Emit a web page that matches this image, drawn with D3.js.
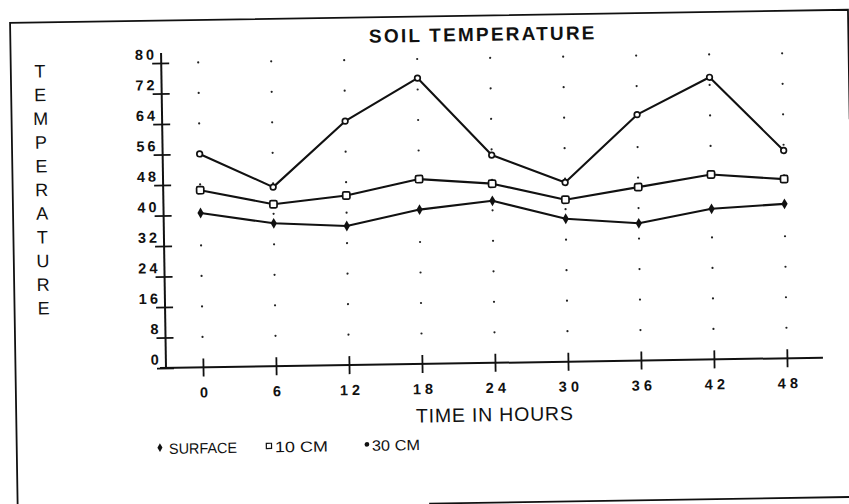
<!DOCTYPE html>
<html>
<head>
<meta charset="utf-8">
<script src="https://cdn.jsdelivr.net/npm/d3@7"></script>
<style>
  html, body { margin: 0; padding: 0; background: #fff; }
  svg { display: block; }
  text { font-family: "Liberation Sans", Arial, Helvetica, sans-serif; fill: #111; }
</style>
</head>
<body>
<svg id="chart" width="849" height="504"></svg>
<script>
// ---- data -------------------------------------------------------------
const hours   = [0, 6, 12, 18, 24, 30, 36, 42, 48];
const surface = [40.5, 37.5, 36.5, 40.5, 42.5, 37.5, 36, 39.5, 40.5];
const cm10    = [46.5, 42.5, 44.5, 48.5, 47, 42.5, 45.5, 48.5, 47];
const cm30    = [56, 47, 64, 75, 54.5, 47, 64.5, 74, 54.5];
const yTicks  = [0, 8, 16, 24, 32, 40, 48, 56, 64, 72, 80];
const xTicks  = [0, 6, 12, 18, 24, 30, 36, 42, 48];
const seriesNames = ["SURFACE", "10 CM", "30 CM"];
const chartTitle = "SOIL TEMPERATURE";
const xTitle = "TIME IN HOURS";
const yTitle = "TEMPERATURE";

// ---- layout -----------------------------------------------------------
const ox = 166, oy = 368;               // axis origin
const tilt = -0.9;                      // the sheet sits slightly askew
const x = d3.scaleLinear().domain([0, 48]).range([203, 787]);
const y = d3.scaleLinear().domain([0, 80]).range([oy, 63]);

const svg = d3.select("#chart");
svg.append("rect").attr("width", 849).attr("height", 504).attr("fill", "#fff");
const page = svg.append("g").attr("transform", `rotate(${tilt},${ox},${oy})`);

// frame around the figure
const frame = page.append("g").attr("stroke", "#111").attr("fill", "none");
frame.append("path").attr("stroke-width", 1.8).attr("d", "M15.5,540V20.5H853.5V130");
frame.append("path").attr("stroke-width", 1.8).attr("d", "M427,507.7H853.5");

// title
page.append("text")
  .attr("x", 488).attr("y", 46)
  .attr("text-anchor", "middle")
  .attr("font-size", 19).attr("font-weight", "bold")
  .attr("letter-spacing", 2.2)
  .text(chartTitle);

// vertical, letter-stacked y title
page.append("g").selectAll("text")
  .data(yTitle.split(""))
  .join("text")
  .attr("x", 44.5)
  .attr("y", (d, i) => 75.6 + i * 23.7)
  .attr("text-anchor", "middle")
  .attr("font-size", 18)
  .text(d => d);

// grid dots at every tick crossing
const dots = [];
xTicks.forEach(h => yTicks.filter(t => t > 0).forEach(t => dots.push([h, t])));
page.append("g").selectAll("circle")
  .data(dots)
  .join("circle")
  .attr("cx", d => x(d[0]))
  .attr("cy", d => y(d[1]))
  .attr("r", 1.1)
  .attr("fill", "#222");

// y axis
const yAxis = page.append("g")
  .attr("transform", `translate(${ox},0)`)
  .call(d3.axisLeft(y).tickValues(yTicks).tickSize(9).tickPadding(0).tickFormat(d3.format("d")));
yAxis.select(".domain").remove();
yAxis.selectAll(".tick line").attr("x1", -9).attr("x2", 8).attr("stroke", "#111").attr("stroke-width", 1.8);
yAxis.selectAll(".tick text")
  .attr("x", -4).attr("dy", null).attr("y", -4)
  .attr("font-size", 14.5).attr("font-weight", "bold")
  .attr("letter-spacing", 3)
  .attr("fill", "#111")
  .style("font-family", "\"Liberation Sans\", Arial, sans-serif");
yAxis.append("line")
  .attr("x1", 0).attr("x2", 0)
  .attr("y1", y(80) - 10).attr("y2", y(0) + 1)
  .attr("stroke", "#111").attr("stroke-width", 2);

// x axis
const xAxis = page.append("g")
  .attr("transform", `translate(0,${oy})`)
  .call(d3.axisBottom(x).tickValues(xTicks).tickSize(9).tickPadding(0).tickFormat(d3.format("d")));
xAxis.select(".domain").remove();
xAxis.selectAll(".tick line").attr("y1", -9).attr("y2", 9).attr("stroke", "#111").attr("stroke-width", 1.8);
xAxis.selectAll(".tick text")
  .attr("dy", null).attr("y", 30).attr("x", 2)
  .attr("font-size", 14.5).attr("font-weight", "bold")
  .attr("letter-spacing", 4)
  .attr("fill", "#111")
  .style("font-family", "\"Liberation Sans\", Arial, sans-serif");
xAxis.append("line")
  .attr("x1", ox - 6).attr("x2", 823)
  .attr("y1", 0).attr("y2", 0)
  .attr("stroke", "#111").attr("stroke-width", 2);

// x title
page.append("text")
  .attr("x", 494).attr("y", 426.5)
  .attr("text-anchor", "middle")
  .attr("font-size", 19.5)
  .attr("letter-spacing", 0.8)
  .text(xTitle);

// ---- series -----------------------------------------------------------
const line = d3.line().x(d => x(d[0])).y(d => y(d[1]));
const series = [
  { name: seriesNames[0], values: surface, mark: "diamond" },
  { name: seriesNames[1], values: cm10,    mark: "square" },
  { name: seriesNames[2], values: cm30,    mark: "circle" }
];

const plot = page.append("g");
series.forEach(s => {
  const pts = hours.map((h, i) => [h, s.values[i]]);
  plot.append("path")
    .datum(pts)
    .attr("d", line)
    .attr("fill", "none")
    .attr("stroke", "#111")
    .attr("stroke-width", 2.1)
    .attr("stroke-linejoin", "round");

  const g = plot.append("g");
  if (s.mark === "diamond") {
    g.selectAll("path").data(pts).join("path")
      .attr("d", d3.symbol(d3.symbolDiamond, 34))
      .attr("transform", d => `translate(${x(d[0])},${y(d[1])})`)
      .attr("fill", "#111");
  } else if (s.mark === "square") {
    g.selectAll("rect").data(pts).join("rect")
      .attr("x", d => x(d[0]) - 3.6).attr("y", d => y(d[1]) - 3.6)
      .attr("width", 7.2).attr("height", 7.2).attr("rx", 1.5)
      .attr("fill", "#fff").attr("stroke", "#111").attr("stroke-width", 1.7);
  } else {
    g.selectAll("circle").data(pts).join("circle")
      .attr("cx", d => x(d[0])).attr("cy", d => y(d[1])).attr("r", 2.8)
      .attr("fill", "#fff").attr("stroke", "#111").attr("stroke-width", 1.7);
  }
});

// ---- legend -----------------------------------------------------------
const legendItems = [
  { name: seriesNames[0], mark: "diamond", mx: 158.7, tx: 167.7, len: 68 },
  { name: seriesNames[1], mark: "square",  mx: 267.7, tx: 273.7, len: 53 },
  { name: seriesNames[2], mark: "dot",     mx: 365.7, tx: 370.7, len: 48 }
];
const legend = page.append("g");
legendItems.forEach(it => {
  if (it.mark === "diamond") {
    legend.append("path")
      .attr("d", d3.symbol(d3.symbolDiamond, 22))
      .attr("transform", `translate(${it.mx},447.5)`)
      .attr("fill", "#111");
  } else if (it.mark === "square") {
    legend.append("rect")
      .attr("x", it.mx - 2.6).attr("y", 447.5 - 2.6)
      .attr("width", 5.2).attr("height", 5.2)
      .attr("fill", "#fff").attr("stroke", "#111").attr("stroke-width", 1.2);
  } else {
    legend.append("circle")
      .attr("cx", it.mx).attr("cy", 447.5).attr("r", 2.4)
      .attr("fill", "#111");
  }
  legend.append("text")
    .attr("x", it.tx).attr("y", 454)
    .attr("font-size", 15)
    .attr("textLength", it.len)
    .attr("lengthAdjust", "spacingAndGlyphs")
    .text(it.name);
});
</script>
</body>
</html>
